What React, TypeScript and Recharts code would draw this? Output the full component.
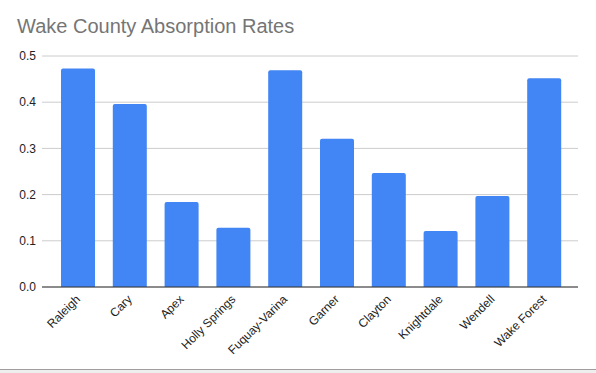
import { BarChart, Bar, XAxis, YAxis, CartesianGrid } from 'recharts';

const cities = [
  'Raleigh', 'Cary', 'Apex', 'Holly Springs', 'Fuquay-Varina',
  'Garner', 'Clayton', 'Knightdale', 'Wendell', 'Wake Forest',
];
const rates = [0.473, 0.396, 0.184, 0.128, 0.469, 0.321, 0.247, 0.121, 0.197, 0.452];
const yTicks = [0, 0.1, 0.2, 0.3, 0.4, 0.5];

const data = cities.map((name, i) => ({ name, rate: rates[i] }));

const FONT = 'Arial, "Liberation Sans", sans-serif';

function CityTick({ x, y, payload }: any) {
  return (
    <g transform={`translate(${x},${y + 2})`}>
      <text
        textAnchor="end"
        transform="rotate(-45)"
        dy="0.35em"
        fontSize={12}
        fontFamily={FONT}
        fill="#222"
      >
        {payload.value}
      </text>
    </g>
  );
}

export default function App() {
  return (
    <div style={{ position: 'absolute', left: 0, top: 0, width: 596, height: 373, background: '#fff' }}>
      <div
        style={{
          position: 'absolute', left: 17, top: 16, fontFamily: FONT,
          fontSize: 20, color: '#757575', whiteSpace: 'nowrap', lineHeight: '20px',
        }}
      >
        Wake County Absorption Rates
      </div>
      <BarChart
        width={596}
        height={369}
        data={data}
        margin={{ top: 56, right: 18, left: 0, bottom: 0 }}
        barSize={34}
      >
        <CartesianGrid vertical={false} stroke="#cccccc" />
        <XAxis
          dataKey="name"
          interval={0}
          height={82}
          padding={{ left: 10, right: 8 }}
          axisLine={{ stroke: '#333' }}
          tickLine={false}
          tick={<CityTick />}
        />
        <YAxis
          domain={[0, 0.5]}
          ticks={yTicks}
          width={42}
          axisLine={false}
          tickLine={false}
          tickSize={0}
          tickMargin={6}
          tickFormatter={(v: number) => v.toFixed(1)}
          tick={{ fontSize: 12, fontFamily: FONT, fill: '#222' }}
        />
        <Bar dataKey="rate" fill="#4285f4" radius={[2, 2, 0, 0]} isAnimationActive={false} />
      </BarChart>
      <div style={{ position: 'absolute', left: 0, top: 369, width: 596, height: 4, borderTop: '1px solid #9e9e9e', background: '#eeeeee', boxSizing: 'border-box' }} />
    </div>
  );
}
